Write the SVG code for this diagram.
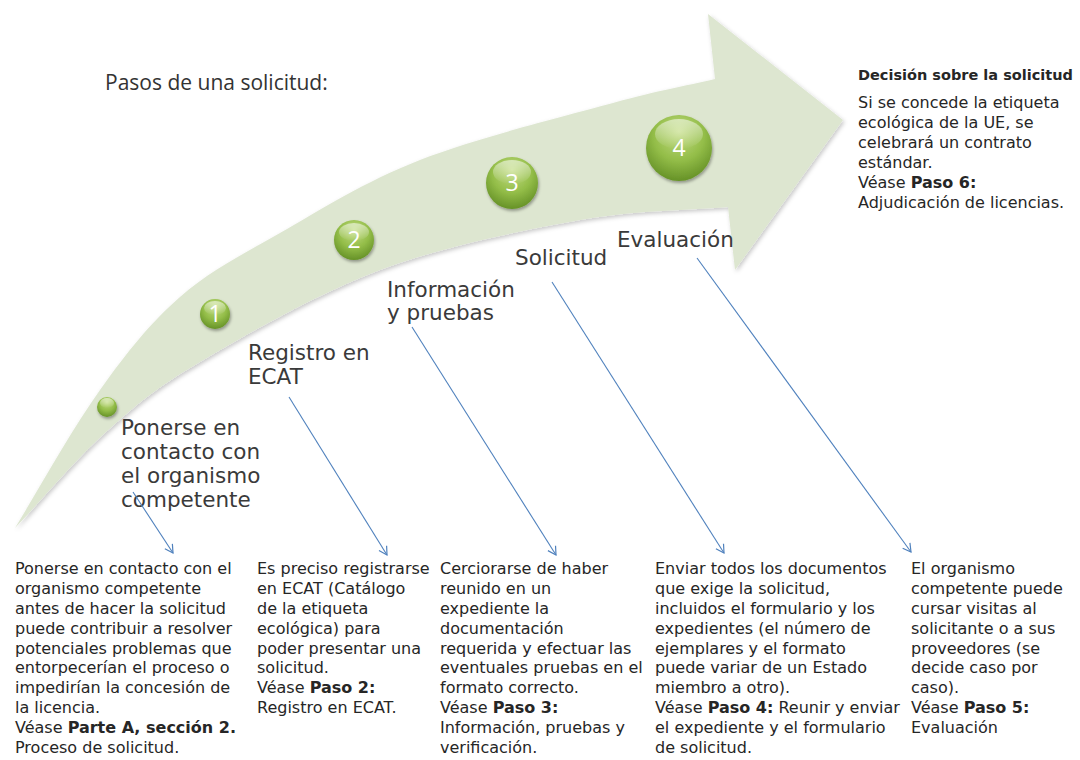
<svg xmlns="http://www.w3.org/2000/svg" width="1080" height="760" viewBox="0 0 1080 760">
<defs>
<style>
.title{font-family:"Open Sans","Liberation Sans",sans-serif;font-size:21px;fill:#333}
.lbl{font-family:"DejaVu Sans",sans-serif;font-size:21.5px;fill:#3a3a3a}
.body{font-family:"DejaVu Sans",sans-serif;font-size:16px;fill:#262626}
.b{font-weight:bold}
.num{font-family:"Open Sans","Liberation Sans",sans-serif;font-size:23px;fill:#fff;text-anchor:middle}
.ball{fill:url(#ball);filter:url(#sh)}
.gloss{fill:url(#gloss)}
.conn{stroke:#4f81bd;stroke-width:1.1;fill:none;marker-end:url(#ah)}
</style>
<radialGradient id="ball" cx="0.5" cy="0.35" r="0.7" fx="0.5" fy="0.25">
<stop offset="0" stop-color="#c3dd85"/>
<stop offset="0.55" stop-color="#93bd48"/>
<stop offset="1" stop-color="#5f8b22"/>
</radialGradient>
<linearGradient id="gloss" x1="0" y1="0" x2="0" y2="1">
<stop offset="0" stop-color="#fff" stop-opacity="0.55"/>
<stop offset="1" stop-color="#fff" stop-opacity="0"/>
</linearGradient>
<filter id="sh" x="-30%" y="-30%" width="170%" height="170%">
<feDropShadow dx="1" dy="2" stdDeviation="1.5" flood-color="#000" flood-opacity="0.35"/>
</filter>
<filter id="ash" x="-5%" y="-5%" width="115%" height="115%">
<feDropShadow dx="1.5" dy="2" stdDeviation="2" flood-color="#000" flood-opacity="0.22"/>
</filter>
<marker id="ah" markerUnits="userSpaceOnUse" markerWidth="14" markerHeight="14" refX="10" refY="6" orient="auto">
<path d="M2,1.5 L10,6 L2,10.5" fill="none" stroke="#4f81bd" stroke-width="1.2"/>
</marker>
</defs>
<rect width="1080" height="760" fill="#fff"/>

<text class="title" x="105" y="90">Pasos de una solicitud:</text>

<g id="arrow">
<path filter="url(#ash)" fill="#dde6d0" d="M15,528 C43,482 72.5,428.5 100,390 C127.5,351.5 150,323.2 180,297 C210,270.8 240,255.8 280,233 C320,210.2 364.5,181.7 420,160 C475.5,138.3 564.3,116.3 613,103 C661.7,89.7 682,86.7 715,79 L708,14 L843,120 L735,270 L728,207 C680,211 638,210 580,220 C521.7,230.5 443.3,246.3 380,270 C316.7,293.7 245.7,335 200,362 C154.3,389 136.8,404.3 106,432 C75.2,459.7 45.3,496 15,528 Z"/>
</g>

<g id="step0">
<circle class="ball" cx="107" cy="407" r="10"/>
<ellipse class="gloss" cx="107" cy="403" rx="7" ry="5"/>
<text class="lbl" x="121" y="435">Ponerse en</text>
<text class="lbl" x="121" y="459">contacto con</text>
<text class="lbl" x="121" y="483">el organismo</text>
<text class="lbl" x="121" y="507">competente</text>
</g>

<g id="step1">
<circle class="ball" cx="215" cy="314" r="15"/>
<ellipse class="gloss" cx="215" cy="308" rx="11" ry="7"/>
<text class="num" x="215" y="322">1</text>
<text class="lbl" x="248" y="360">Registro en</text>
<text class="lbl" x="248" y="384">ECAT</text>
</g>

<g id="step2">
<circle class="ball" cx="354" cy="240" r="20"/>
<ellipse class="gloss" cx="354" cy="232" rx="15" ry="9"/>
<text class="num" x="354" y="248">2</text>
<text class="lbl" x="387" y="297">Información</text>
<text class="lbl" x="387" y="320">y pruebas</text>
</g>

<g id="step3">
<circle class="ball" cx="512" cy="183" r="26"/>
<ellipse class="gloss" cx="512" cy="172" rx="19" ry="12"/>
<text class="num" x="512" y="191">3</text>
<text class="lbl" x="515" y="265">Solicitud</text>
</g>

<g id="step4">
<circle class="ball" cx="679" cy="148" r="33"/>
<ellipse class="gloss" cx="679" cy="134" rx="24" ry="15"/>
<text class="num" x="679" y="156">4</text>
<text class="lbl" x="617" y="247">Evaluación</text>
</g>

<g id="decision">
<text class="body" x="858" y="80"><tspan class="b" style="font-size:14.5px">Decisión sobre la solicitud</tspan></text>
<text class="body">
<tspan x="858" y="108">Si se concede la etiqueta</tspan>
<tspan x="858" y="128">ecológica de la UE, se</tspan>
<tspan x="858" y="148">celebrará un contrato</tspan>
<tspan x="858" y="168">estándar.</tspan>
<tspan x="858" y="188">Véase <tspan class="b">Paso 6:</tspan></tspan>
<tspan x="858" y="208">Adjudicación de licencias.</tspan>
</text>
</g>

<g id="connectors">
<line class="conn" x1="133" y1="492" x2="173" y2="553"/>
<line class="conn" x1="289" y1="397" x2="387" y2="555"/>
<line class="conn" x1="412" y1="327" x2="556" y2="555"/>
<line class="conn" x1="552" y1="282" x2="724" y2="553"/>
<line class="conn" x1="697" y1="258" x2="911" y2="552"/>
</g>

<g id="desc1">
<text class="body">
<tspan x="15" y="574">Ponerse en contacto con el</tspan>
<tspan x="15" y="594">organismo competente</tspan>
<tspan x="15" y="614">antes de hacer la solicitud</tspan>
<tspan x="15" y="634">puede contribuir a resolver</tspan>
<tspan x="15" y="654">potenciales problemas que</tspan>
<tspan x="15" y="673">entorpecerían el proceso o</tspan>
<tspan x="15" y="693">impedirían la concesión de</tspan>
<tspan x="15" y="713">la licencia.</tspan>
<tspan x="15" y="733">Véase <tspan class="b">Parte A, sección 2.</tspan></tspan>
<tspan x="15" y="753">Proceso de solicitud.</tspan>
</text>
</g>

<g id="desc2">
<text class="body">
<tspan x="257" y="574">Es preciso registrarse</tspan>
<tspan x="257" y="594">en ECAT (Catálogo</tspan>
<tspan x="257" y="614">de la etiqueta</tspan>
<tspan x="257" y="634">ecológica) para</tspan>
<tspan x="257" y="654">poder presentar una</tspan>
<tspan x="257" y="673">solicitud.</tspan>
<tspan x="257" y="693">Véase <tspan class="b">Paso 2:</tspan></tspan>
<tspan x="257" y="713">Registro en ECAT.</tspan>
</text>
</g>

<g id="desc3">
<text class="body">
<tspan x="440" y="574">Cerciorarse de haber</tspan>
<tspan x="440" y="594">reunido en un</tspan>
<tspan x="440" y="614">expediente la</tspan>
<tspan x="440" y="634">documentación</tspan>
<tspan x="440" y="654">requerida y efectuar las</tspan>
<tspan x="440" y="673">eventuales pruebas en el</tspan>
<tspan x="440" y="693">formato correcto.</tspan>
<tspan x="440" y="713">Véase <tspan class="b">Paso 3:</tspan></tspan>
<tspan x="440" y="733">Información, pruebas y</tspan>
<tspan x="440" y="753">verificación.</tspan>
</text>
</g>

<g id="desc4">
<text class="body">
<tspan x="655" y="574">Enviar todos los documentos</tspan>
<tspan x="655" y="594">que exige la solicitud,</tspan>
<tspan x="655" y="614">incluidos el formulario y los</tspan>
<tspan x="655" y="634">expedientes (el número de</tspan>
<tspan x="655" y="654">ejemplares y el formato</tspan>
<tspan x="655" y="673">puede variar de un Estado</tspan>
<tspan x="655" y="693">miembro a otro).</tspan>
<tspan x="655" y="713">Véase <tspan class="b">Paso 4:</tspan> Reunir y enviar</tspan>
<tspan x="655" y="733">el expediente y el formulario</tspan>
<tspan x="655" y="753">de solicitud.</tspan>
</text>
</g>

<g id="desc5">
<text class="body">
<tspan x="911" y="574">El organismo</tspan>
<tspan x="911" y="594">competente puede</tspan>
<tspan x="911" y="614">cursar visitas al</tspan>
<tspan x="911" y="634">solicitante o a sus</tspan>
<tspan x="911" y="654">proveedores (se</tspan>
<tspan x="911" y="673">decide caso por</tspan>
<tspan x="911" y="693">caso).</tspan>
<tspan x="911" y="713">Véase <tspan class="b">Paso 5:</tspan></tspan>
<tspan x="911" y="733">Evaluación</tspan>
</text>
</g>
</svg>
